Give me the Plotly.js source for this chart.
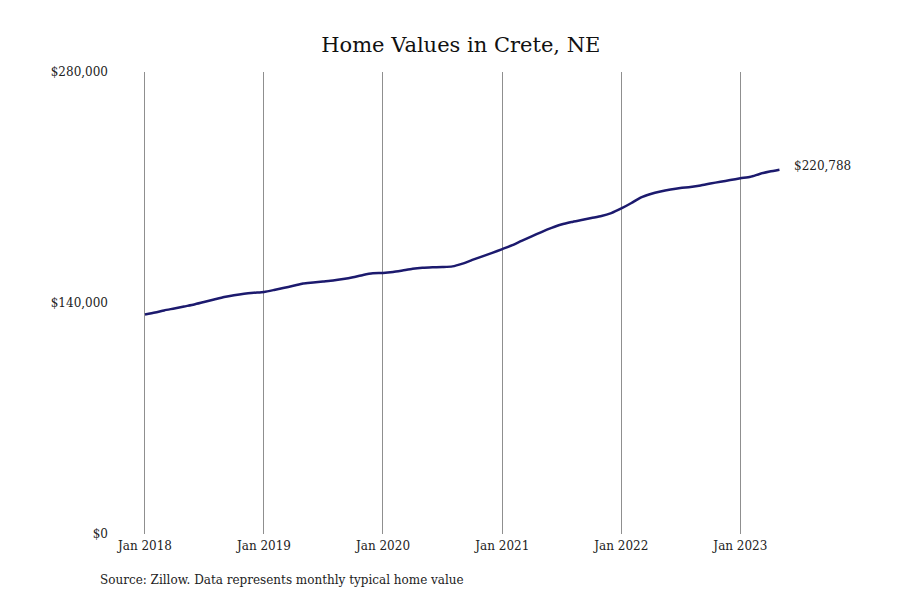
<!DOCTYPE html>
<html>
<head>
<meta charset="utf-8">
<script src="https://cdn.plot.ly/plotly-3.0.1.min.js"></script>
<style>
  body { margin: 0; background: #fff; }
  #chart { width: 900px; height: 600px; }
</style>
</head>
<body>
<div id="chart"></div>
<script>
// monthly typical home value, Jan 2018 - May 2023
var months = [];
for (var y = 2018; y <= 2023; y++) {
    for (var m = 1; m <= 12; m++) {
        if (y == 2023 && m > 5) break;
        months.push(y + '-' + (m < 10 ? '0' + m : m) + '-01');
    }
}

var values = [
    133000, 134200, 135500, 136700, 137900, 139100, 140600, 142100, 143600, 144700, 145600, 146200,
    146700, 147900, 149100, 150400, 151800, 152400, 153000, 153600, 154500, 155600, 157000, 158000,
    158200, 158800, 159700, 160700, 161300, 161600, 161800, 162200, 163900, 166100, 168300, 170400,
    172700, 175100, 177700, 180400, 183000, 185500, 187600, 189100, 190300, 191500, 192700, 194500,
    197300, 200600, 203900, 206100, 207600, 208800, 209700, 210300, 211200, 212400, 213500, 214500,
    215600, 216500, 218200, 219700, 220788
];

var yTicks = [0, 140000, 280000];
var yTickText = ['$0', '$140,000', '$280,000'];

var font = 'DejaVu Serif, serif';
var lastX = months[months.length - 1];
var lastY = values[values.length - 1];

var trace = {
    x: months,
    y: values,
    mode: 'lines',
    line: {color: '#1c1a6e', width: 2.5, shape: 'spline', smoothing: 0.6},
    hoverinfo: 'skip',
    showlegend: false
};

var layout = {
    width: 900,
    height: 600,
    paper_bgcolor: '#fff',
    plot_bgcolor: '#fff',
    margin: {l: 143, r: 55, t: 72, b: 66},
    font: {family: font, color: '#222', size: 12},
    title: {
        text: 'Home Values in Crete, NE',
        font: {family: font, size: 21, color: '#111'},
        x: 0.512, xanchor: 'center',
        y: 0.926, yanchor: 'middle'
    },
    xaxis: {
        type: 'date',
        range: ['2017-12-26', '2023-11-18'],
        tick0: '2018-01-01',
        dtick: 'M12',
        tickformat: '%b %Y',
        showgrid: true,
        gridcolor: '#8f8f8f',
        gridwidth: 1,
        zeroline: false,
        showline: false,
        ticks: '',
        ticklabelstandoff: 3,
        tickfont: {family: font, size: 12, color: '#222'},
        fixedrange: true
    },
    yaxis: {
        range: [0, 280000],
        tickvals: yTicks,
        ticktext: yTickText,
        showgrid: false,
        zeroline: false,
        showline: false,
        ticks: '',
        ticklabelstandoff: 34,
        tickfont: {family: font, size: 12, color: '#222'},
        fixedrange: true
    },
    annotations: [
        {
            x: lastX, y: lastY, xref: 'x', yref: 'y',
            text: '$220,788', showarrow: false,
            xanchor: 'left', yanchor: 'middle', xshift: 13, yshift: 4,
            font: {family: font, size: 12, color: '#222'}
        },
        {
            x: -0.064, y: -0.1, xref: 'paper', yref: 'paper',
            xanchor: 'left', yanchor: 'middle',
            text: 'Source: Zillow. Data represents monthly typical home value',
            showarrow: false,
            font: {family: font, size: 12, color: '#222'}
        }
    ]
};

Plotly.newPlot('chart', [trace], layout, {displayModeBar: false, staticPlot: true});
</script>
</body>
</html>
